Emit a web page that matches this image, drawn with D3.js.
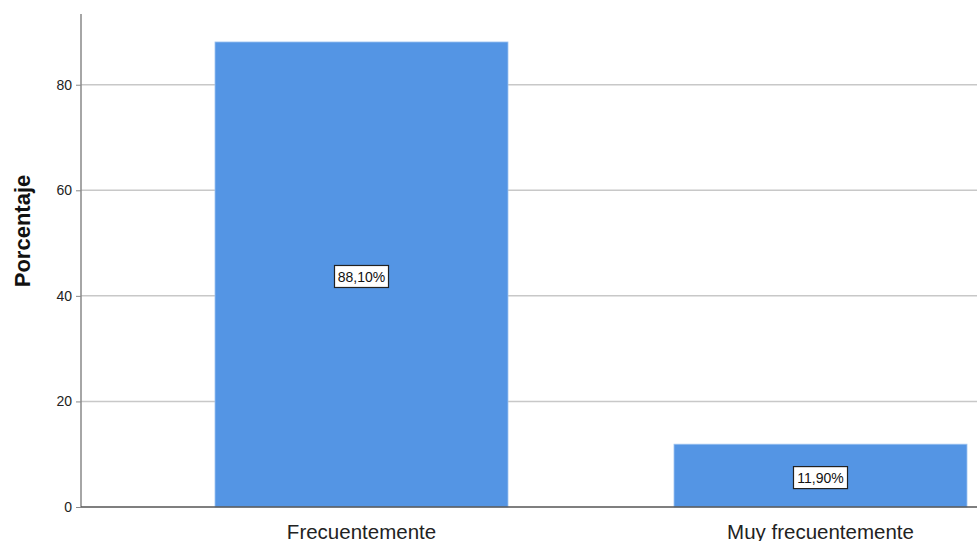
<!DOCTYPE html>
<html><head><meta charset="utf-8">
<script src="https://cdn.jsdelivr.net/npm/d3@7"></script>
<style>body{margin:0;background:#fff}svg{display:block}</style>
</head><body>
<script>
const categories = ["Frecuentemente", "Muy frecuentemente"];
const values = [88.10, 11.90];
const labels = ["88,10%", "11,90%"];
const yTicks = [0, 20, 40, 60, 80];

const W = 977, H = 541;
const FONT = "Liberation Sans, Arial, sans-serif";
const svg = d3.select("body").append("svg").attr("width", W).attr("height", H);
const x0 = 81, yBase = 507;
const y = d3.scaleLinear().domain([0, 93.4]).range([yBase, 14]);
const x = d3.scaleBand().domain(categories).range([132, 1050]).paddingInner(0.3617).paddingOuter(0.3617/2);

// gridlines
svg.append("g").selectAll("line").data(yTicks.filter(d => d > 0)).join("line")
  .attr("x1", x0).attr("x2", W).attr("y1", d => y(d)).attr("y2", d => y(d))
  .attr("stroke", "#c8c8c8").attr("stroke-width", 1.5);

// bars
svg.append("g").selectAll("rect").data(values).join("rect")
  .attr("x", (d, i) => x(categories[i])).attr("width", x.bandwidth())
  .attr("y", d => y(d)).attr("height", d => yBase - y(d))
  .attr("fill", "#5495e4").attr("stroke", "#9cc3f0").attr("stroke-width", 0.8);

// y axis
const yAxis = d3.axisLeft(y).tickValues(yTicks).tickSize(5).tickPadding(4);
const gy = svg.append("g").attr("transform", `translate(${x0},0)`).call(yAxis);
gy.select(".domain").remove();
gy.selectAll(".tick line").attr("stroke", "#888").attr("stroke-width", 1);
gy.selectAll(".tick text").attr("font-family", FONT).attr("font-size", 14).attr("fill", "#222");
svg.append("line").attr("x1", x0).attr("x2", x0).attr("y1", 14).attr("y2", yBase)
  .attr("stroke", "#888").attr("stroke-width", 1.5);

// x axis
svg.append("line").attr("x1", x0).attr("x2", W).attr("y1", yBase).attr("y2", yBase)
  .attr("stroke", "#555").attr("stroke-width", 1.5);
svg.append("g").selectAll("text").data(categories).join("text")
  .attr("x", d => x(d) + x.bandwidth() / 2).attr("y", 539)
  .attr("text-anchor", "middle").attr("font-family", FONT)
  .attr("font-size", 20.5).attr("fill", "#222").text(d => d);

// y title
svg.append("text").attr("transform", "translate(30,231) rotate(-90)")
  .attr("text-anchor", "middle").attr("font-family", FONT)
  .attr("font-size", 22).attr("font-weight", "bold").attr("fill", "#111").text("Porcentaje");

// value labels
const lg = svg.append("g").selectAll("g").data(values).join("g")
  .attr("transform", (d, i) => `translate(${x(categories[i]) + x.bandwidth() / 2},${(y(d) + yBase) / 2 + 2})`);
lg.append("rect").attr("x", -27).attr("y", -11).attr("width", 54).attr("height", 22)
  .attr("fill", "#fff").attr("stroke", "#222").attr("stroke-width", 1.2);
lg.append("text").attr("text-anchor", "middle").attr("dy", "0.36em")
  .attr("font-family", FONT).attr("font-size", 14).attr("fill", "#111")
  .text((d, i) => labels[i]);
</script>
</body></html>
